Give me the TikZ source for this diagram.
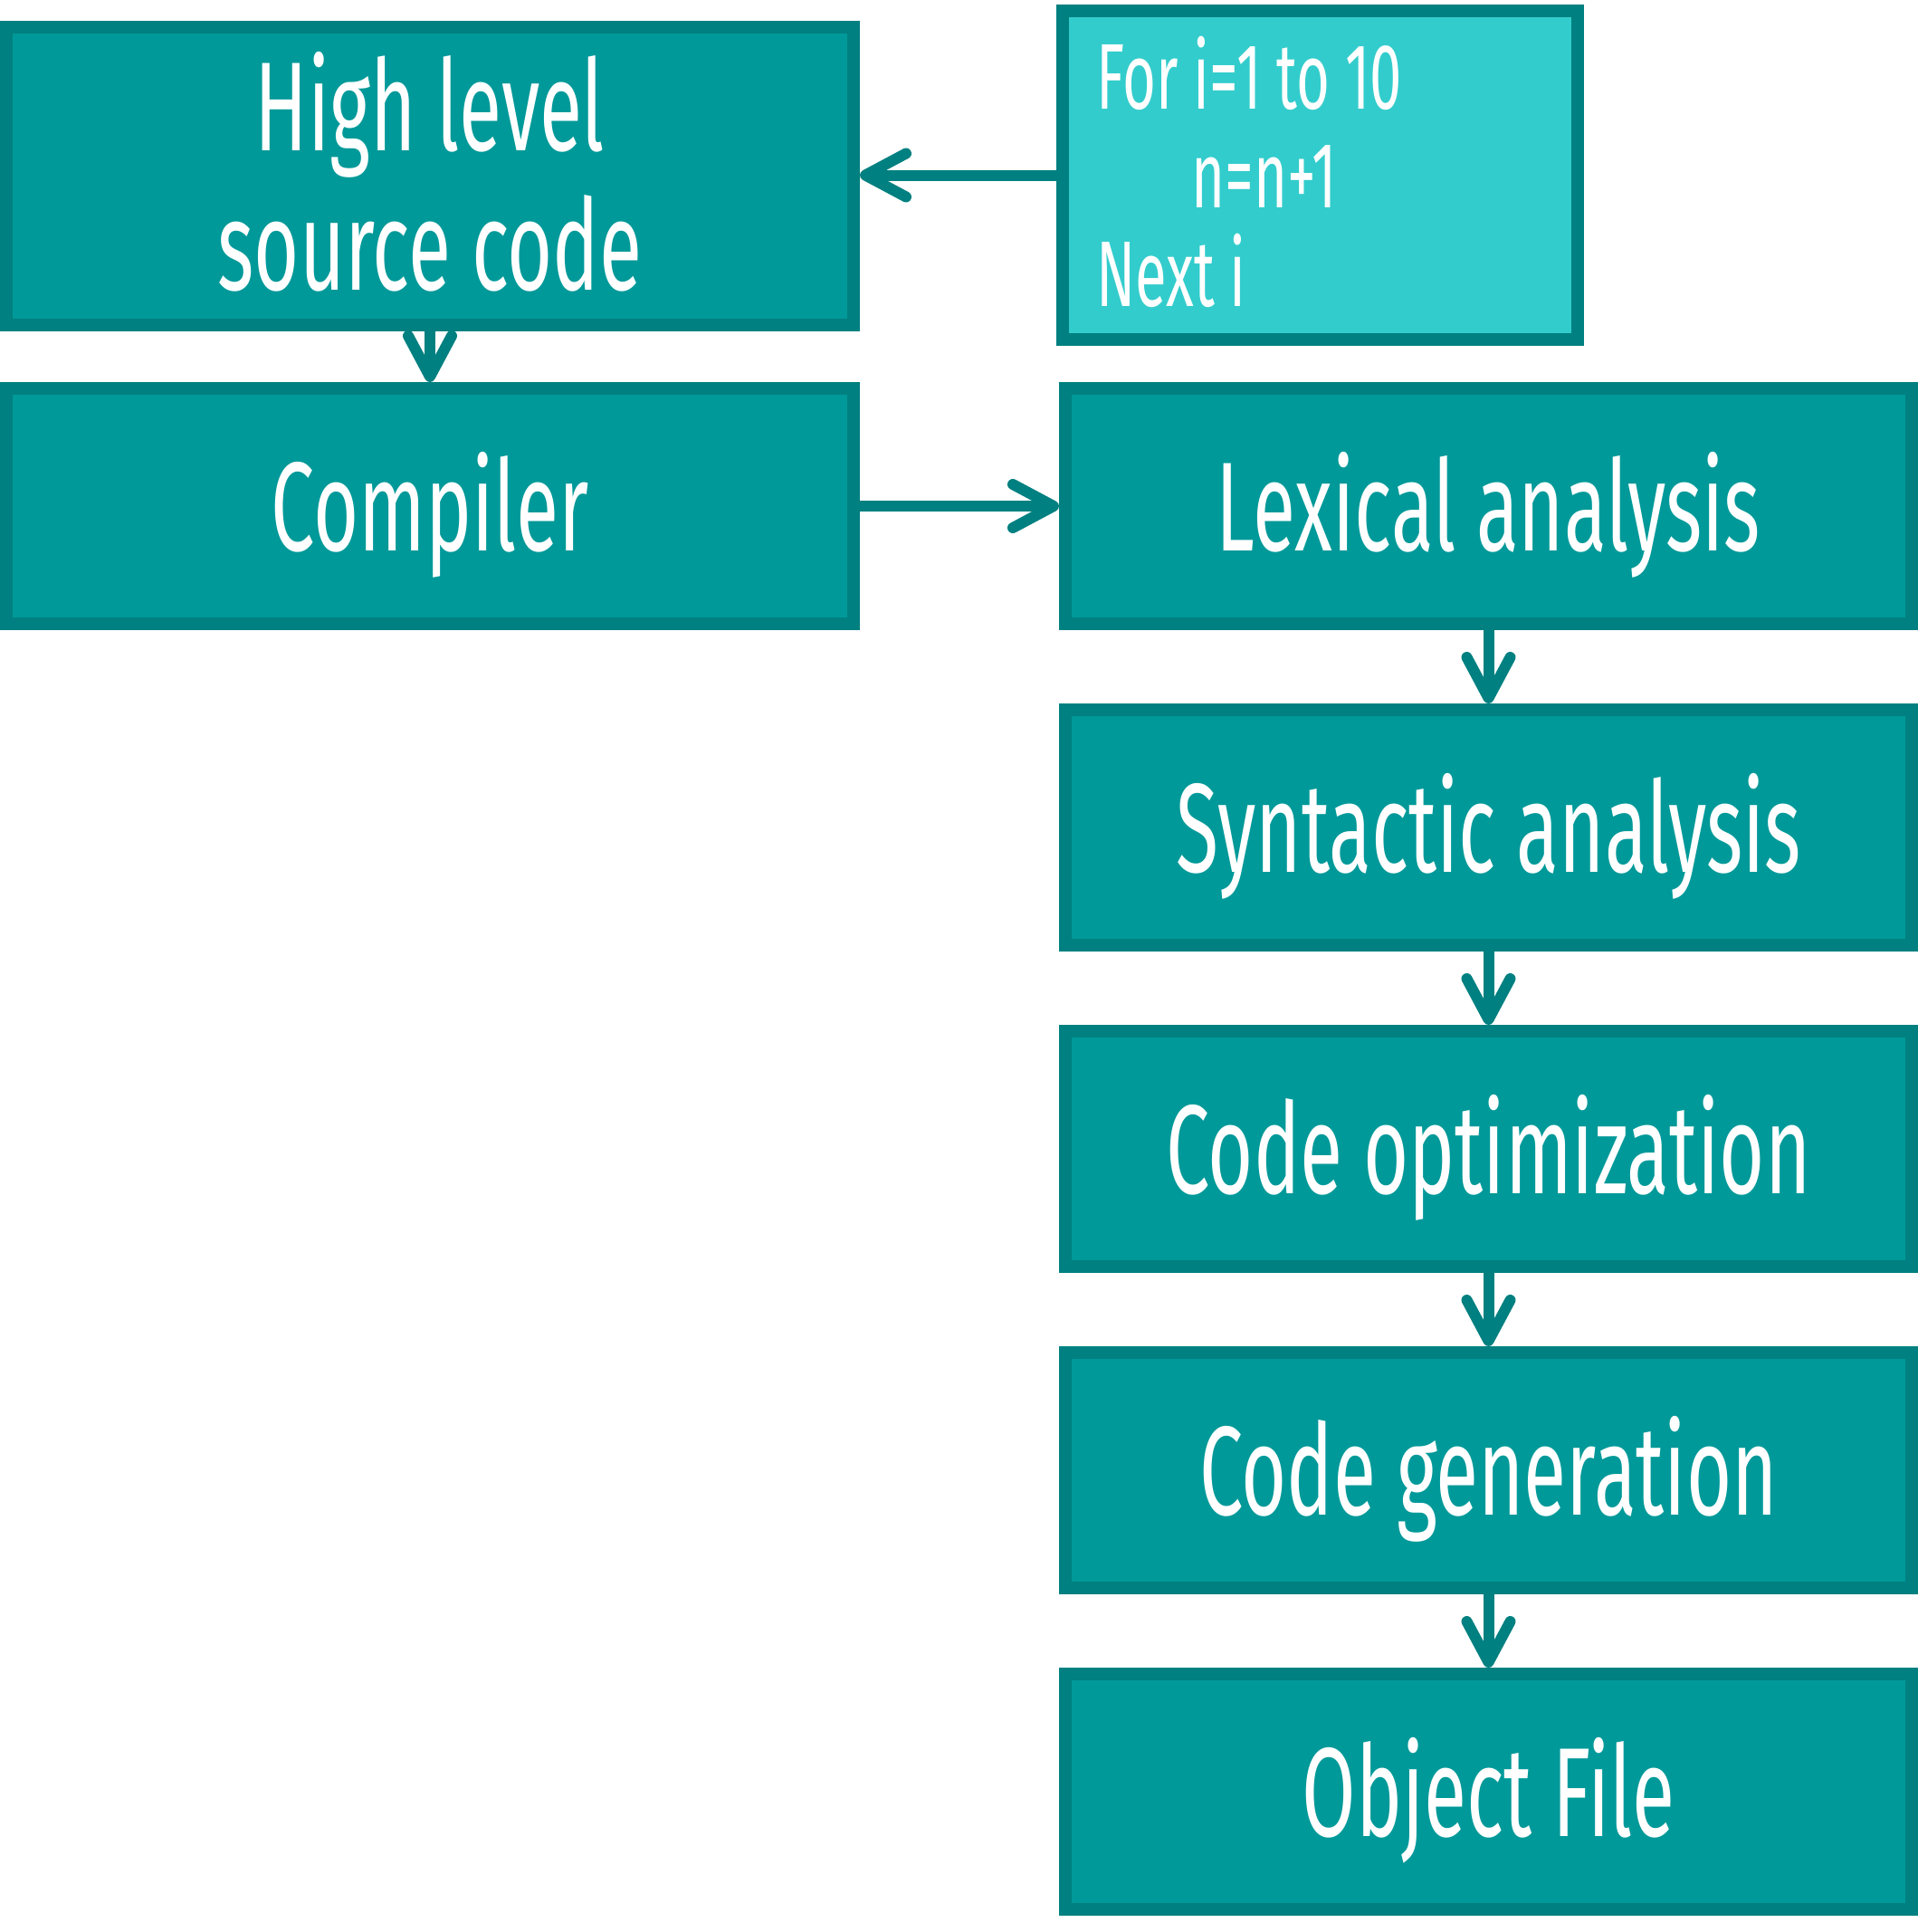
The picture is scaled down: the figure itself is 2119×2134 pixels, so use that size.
\documentclass[tikz,border=0pt]{standalone}
\usepackage{fontspec}
\newfontfamily\agency[FakeStretch=0.615]{Fira Sans}
\usetikzlibrary{arrows.meta}
\definecolor{bord}{HTML}{008080}
\definecolor{boxfill}{HTML}{009999}
\definecolor{codefill}{HTML}{33CCCC}
\begin{document}
\begin{tikzpicture}[x=1pt,y=-1pt,
  box/.style={draw=bord, fill=boxfill, line width=14pt, inner sep=0pt, minimum width=935pt, minimum height=260pt},
  lbl/.style={text=white, anchor=base, inner sep=0pt, font=\agency\fontsize{140}{154}\selectfont},
  codelbl/.style={text=white, anchor=base west, inner sep=0pt, font=\agency\fontsize{103}{110}\selectfont},
  arr/.style={draw=bord, line width=12pt, -{Straight Barb[length=45pt,width=48pt,round]}}]
\useasboundingbox (0,0) rectangle (2119,2134);

% left column
\node[box, minimum width=936pt, minimum height=329pt] (high) at (475,194.5) {};
\node[lbl] (hl1) at (475,166) {High level};
\node[lbl] (hl2) at (475,320) {source code};
\node[box, minimum width=936pt] (comp) at (475,559) {};
\node[lbl] (compt) at (475,608) {Compiler};

% code box
\node[box, fill=codefill, minimum width=569pt, minimum height=363pt] (code) at (1458.5,193.5) {};
\node[codelbl] (c1) at (1211,120) {For i=1 to 10};
\node[codelbl] (c2) at (1316,229) {n=n+1};
\node[codelbl] (c3) at (1211,338) {Next i};

% right column
\node[box] (lex) at (1644.5,559) {};
\node[lbl] (lext) at (1644.5,608) {Lexical analysis};
\node[box] (syn) at (1644.5,914) {};
\node[lbl] (synt) at (1644.5,963) {Syntactic analysis};
\node[box] (opt) at (1644.5,1269) {};
\node[lbl] (optt) at (1644.5,1318) {Code optimization};
\node[box] (gen) at (1644.5,1624) {};
\node[lbl] (gent) at (1644.5,1673) {Code generation};
\node[box] (obj) at (1644.5,1979) {};
\node[lbl] (objt) at (1644.5,2028) {Object File};

% connectors
\draw[arr] (code.west) -- (code.west -| high.east);
\draw[arr] (high.south) -- (comp.north);
\draw[arr] (comp.east) -- (lex.west);
\draw[arr] (lex.south) -- (syn.north);
\draw[arr] (syn.south) -- (opt.north);
\draw[arr] (opt.south) -- (gen.north);
\draw[arr] (gen.south) -- (obj.north);
\end{tikzpicture}
\end{document}
